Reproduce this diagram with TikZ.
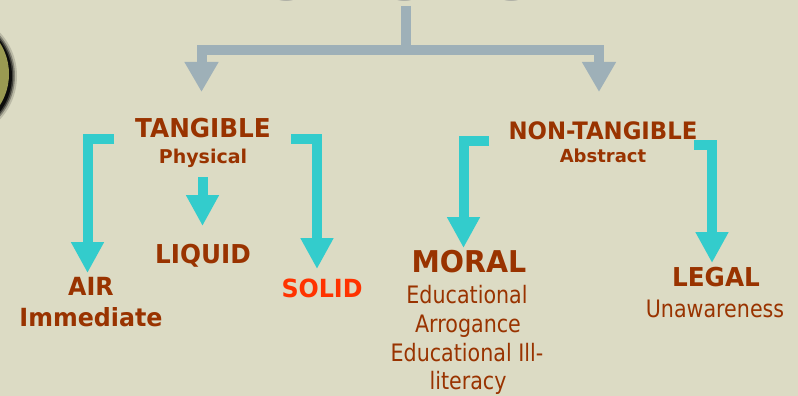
\documentclass[tikz,border=0pt]{standalone}
\usepackage{fontspec}
\setmainfont{DejaVu Sans}
\usetikzlibrary{arrows.meta}
\definecolor{bg}{HTML}{DCDBC4}
\definecolor{graybar}{HTML}{9EB0B8}
\definecolor{cyanbar}{HTML}{33CCCC}
\definecolor{brown}{HTML}{993300}
\definecolor{redtxt}{HTML}{FF3300}
\definecolor{olive}{HTML}{9A9A52}
\definecolor{titlegray}{HTML}{A9AAA2}
\newcommand{\bx}[1]{\scalebox{0.95}[1]{#1}}
\newcommand{\rx}[1]{\scalebox{0.86}[1]{#1}}
\tikzset{
  lbl/.style={anchor=base, inner sep=0pt, text=brown},
  bd/.style={font=\bfseries\fontsize{#1}{#1}\selectfont},
  rg/.style={font=\fontsize{#1}{#1}\selectfont},
  grayarrow/.style={draw=graybar, line width=10pt, line join=miter, -{Triangle[width=32pt,length=30pt]}},
  cyanarrow/.style={draw=cyanbar, line width=10pt, line join=miter, -{Triangle[width=31pt,length=31pt]}},
}
\begin{document}
\begin{tikzpicture}[x=1pt,y=-1pt]
\useasboundingbox (0,0) rectangle (798,396);
\fill[bg] (0,0) rectangle (798,396);
\begin{scope}
\clip (0,0) rectangle (798,396);
\node[anchor=base, inner sep=0pt, text=titlegray, font=\bfseries\fontsize{60}{60}\selectfont] (title) at (402,0.8) {\bx{POLLUTION}};
\foreach \r/\o in {64/0.15,62/0.3,60.5/0.5,59/0.8}{
  \fill[black, opacity=\o] (-47,76) circle (\r);
}
\fill[olive] (-49,74) circle (58);
\end{scope}
% labels
\node[lbl, bd=26] (tang) at (203,137) {\bx{TANGIBLE}};
\node[lbl, bd=19] (phys) at (203,163) {Physical};
\node[lbl, bd=26] (liquid) at (203,263) {\bx{LIQUID}};
\node[lbl, bd=25] (air) at (91,295) {\bx{AIR}};
\node[lbl, bd=25] (imm) at (91,326) {\bx{Immediate}};
\node[lbl, bd=25, text=redtxt] (solid) at (322,297) {\bx{SOLID}};
\node[lbl, bd=24] (ntang) at (603,139) {\bx{NON-TANGIBLE}};
\node[lbl, bd=18] (abs) at (603,162) {Abstract};
\node[lbl, bd=30] (moral) at (469,272) {\bx{MORAL}};
\node[lbl, rg=24] (m1) at (467,303) {\rx{Educational}};
\node[lbl, rg=24] (m2) at (468,332) {\rx{Arrogance}};
\node[lbl, rg=24] (m3) at (467,361) {\rx{Educational Ill-}};
\node[lbl, rg=24] (m4) at (468,389) {\rx{literacy}};
\node[lbl, bd=26] (legal) at (716,286) {\bx{LEGAL}};
\node[lbl, rg=24] (unaw) at (715,317) {\rx{Unawareness}};
% gray connectors
\coordinate (gs) at (406,6);
\coordinate (gm) at (406,50);
\coordinate (gl) at (201.5,92);
\coordinate (gr) at (599,92);
\draw[grayarrow] (gs) -- (gm) -- (gl |- gm) -- (gl);
\draw[grayarrow] (gm) -- (gr |- gm) -- (gr);
% cyan arrows
\coordinate (a1s) at (114,138.5);
\coordinate (a1e) at (87.5,273);
\draw[cyanarrow] (a1s) -- (a1e |- a1s) -- (a1e);
\coordinate (a2s) at (202.5,177);
\coordinate (a2e) at (202.5,226);
\draw[cyanarrow] (a2s) -- (a2e);
\coordinate (a3s) at (291,138.5);
\coordinate (a3e) at (317,269);
\draw[cyanarrow] (a3s) -- (a3e |- a3s) -- (a3e);
\coordinate (a4s) at (489,140.5);
\coordinate (a4e) at (463.5,248);
\draw[cyanarrow] (a4s) -- (a4e |- a4s) -- (a4e);
\coordinate (a5s) at (694,144.5);
\coordinate (a5e) at (712,263);
\draw[cyanarrow] (a5s) -- (a5e |- a5s) -- (a5e);
\end{tikzpicture}
\end{document}
